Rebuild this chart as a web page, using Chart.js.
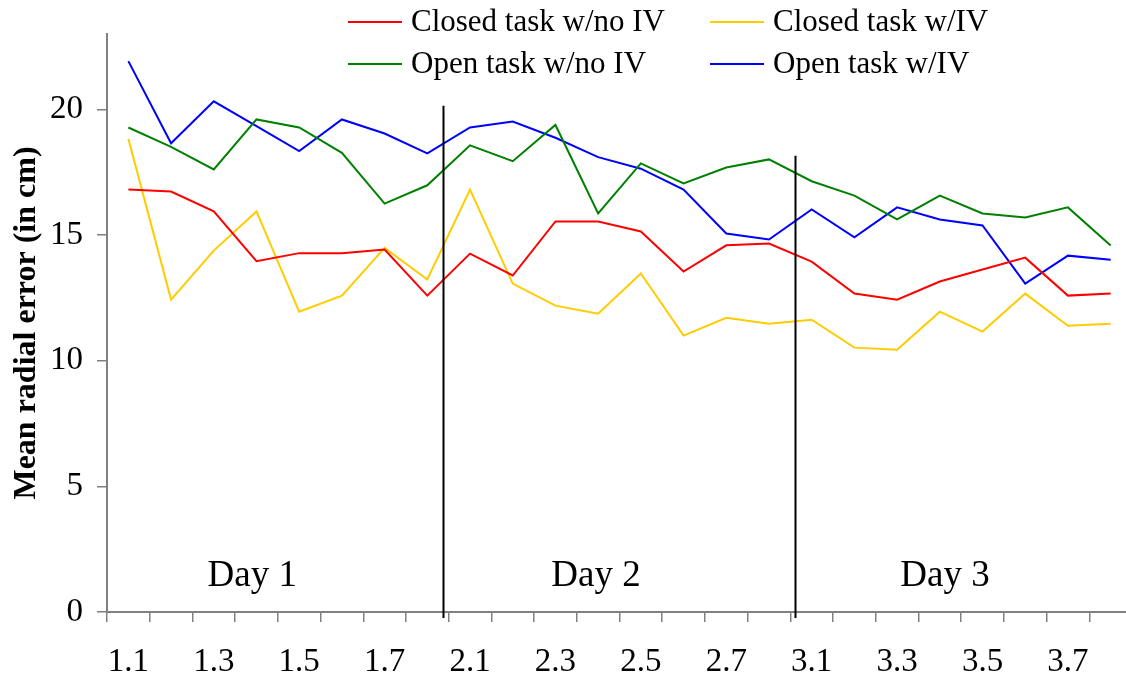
<!DOCTYPE html>
<html lang="en">

<head>
    <meta charset="UTF-8">
    <title>Mean radial error by session</title>
    <script src="https://cdn.jsdelivr.net/npm/chart.js"></script>
    <style>
        body,
        html {
            margin: 0;
            overflow: hidden;
            background: #fff;
        }
    </style>
</head>

<body>
    <canvas id="errorChart" width="1134" height="675"></canvas>
    <script>
        // sessions: day.block
        const sessions = ['1.1', '1.2', '1.3', '1.4', '1.5', '1.6', '1.7', '1.8',
            '2.1', '2.2', '2.3', '2.4', '2.5', '2.6', '2.7', '2.8',
            '3.1', '3.2', '3.3', '3.4', '3.5', '3.6', '3.7', '3.8'];
        const shownTicks = ['1.1', '1.3', '1.5', '1.7', '2.1', '2.3', '2.5', '2.7', '3.1', '3.3', '3.5', '3.7'];

        const closedNoIV = [16.81, 16.73, 15.94, 13.96, 14.28, 14.28, 14.42, 12.59,
            14.26, 13.39, 15.54, 15.54, 15.14, 13.55, 14.59, 14.66,
            13.94, 12.67, 12.43, 13.15, 13.63, 14.10, 12.59, 12.67];
        const closedIV = [18.83, 12.43, 14.38, 15.94, 11.95, 12.59, 14.49, 13.23,
            16.81, 13.07, 12.19, 11.87, 13.47, 11.00, 11.71, 11.47,
            11.63, 10.52, 10.44, 11.95, 11.16, 12.67, 11.39, 11.47];
        const openNoIV = [19.28, 18.51, 17.61, 19.60, 19.28, 18.27, 16.25, 16.98,
            18.57, 17.94, 19.38, 15.86, 17.85, 17.05, 17.69, 18.01,
            17.14, 16.57, 15.62, 16.57, 15.86, 15.70, 16.10, 14.58];
        const openIV = [21.92, 18.65, 20.32, 19.33, 18.34, 19.60, 19.04, 18.25,
            19.28, 19.52, 18.87, 18.10, 17.64, 16.81, 15.06, 14.82,
            16.02, 14.91, 16.10, 15.62, 15.38, 13.07, 14.18, 14.02];

        // day separators (category index units) and labels
        const dividerAt = [7.36, 15.6];
        const dividerTop = [20.14, 18.16];
        const dayLabels = ['Day 1', 'Day 2', 'Day 3'];
        const dayLabelAt = [2.9, 10.95, 19.12];
        const dayLabelY = 1.03;

        const serif = '"Liberation Serif", "Times New Roman", serif';
        const axisGrey = '#808080';

        const dayMarks = {
            id: 'dayMarks',
            afterDatasetsDraw(chart) {
                const { ctx, scales: { x, y }, chartArea } = chart;
                ctx.save();
                ctx.strokeStyle = '#000';
                ctx.lineWidth = 2;
                dividerAt.forEach((pos, i) => {
                    const px = Math.round(x.getPixelForValue(pos)) + 0.5;
                    ctx.beginPath();
                    ctx.moveTo(px, y.getPixelForValue(dividerTop[i]));
                    ctx.lineTo(px, chartArea.bottom + 6);
                    ctx.stroke();
                });
                ctx.fillStyle = '#000';
                ctx.font = '37px ' + serif;
                ctx.textAlign = 'center';
                ctx.textBaseline = 'alphabetic';
                dayLabels.forEach((txt, i) => {
                    ctx.fillText(txt, x.getPixelForValue(dayLabelAt[i]), y.getPixelForValue(dayLabelY));
                });
                ctx.restore();
            }
        };

        // two-column legend laid over the top of the plot
        const gridLegend = {
            id: 'gridLegend',
            afterDraw(chart) {
                const ctx = chart.ctx;
                const colX = [348, 710];
                const rowY = [22, 64];
                ctx.save();
                ctx.font = '31px ' + serif;
                ctx.textBaseline = 'middle';
                ctx.textAlign = 'left';
                chart.data.datasets.forEach((ds, i) => {
                    const lx = colX[i % 2];
                    const ly = rowY[Math.floor(i / 2)];
                    ctx.strokeStyle = ds.borderColor;
                    ctx.lineWidth = 2;
                    ctx.beginPath();
                    ctx.moveTo(lx, ly);
                    ctx.lineTo(lx + 54, ly);
                    ctx.stroke();
                    ctx.fillStyle = '#000';
                    ctx.fillText(ds.label, lx + 63, ly + 1);
                });
                ctx.restore();
            }
        };

        const ctx = document.getElementById('errorChart').getContext('2d');
        new Chart(ctx, {
            type: 'line',
            data: {
                labels: sessions,
                datasets: [
                    { label: 'Closed task w/no IV', data: closedNoIV, borderColor: '#ff0000' },
                    { label: 'Closed task w/IV', data: closedIV, borderColor: '#ffcc00' },
                    { label: 'Open task w/no IV', data: openNoIV, borderColor: '#008000' },
                    { label: 'Open task w/IV', data: openIV, borderColor: '#0000ff' }
                ]
            },
            options: {
                responsive: false,
                animation: false,
                layout: { padding: { top: 34, right: 2, left: 0, bottom: 0 } },
                elements: {
                    line: { borderWidth: 2, tension: 0, fill: false },
                    point: { radius: 0, hoverRadius: 0 }
                },
                plugins: {
                    legend: { display: false },
                    tooltip: { enabled: false }
                },
                scales: {
                    x: {
                        type: 'category',
                        offset: true,
                        afterFit(scale) { scale.height = 63; },
                        grid: {
                            offset: true,
                            drawOnChartArea: false,
                            drawTicks: true,
                            tickLength: 10,
                            color: axisGrey,
                            lineWidth: 1.5
                        },
                        border: { display: true, color: axisGrey, width: 2 },
                        ticks: {
                            autoSkip: false,
                            maxRotation: 0,
                            minRotation: 0,
                            padding: 21,
                            color: '#000',
                            font: { family: serif, size: 33 },
                            callback(value) {
                                const lab = this.getLabelForValue(value);
                                return shownTicks.includes(lab) ? lab : '';
                            }
                        }
                    },
                    y: {
                        min: 0,
                        max: 23,
                        afterFit(scale) { scale.width = 107; },
                        grid: {
                            drawOnChartArea: false,
                            drawTicks: true,
                            tickLength: 10,
                            color: axisGrey,
                            lineWidth: 1.5
                        },
                        border: { display: true, color: axisGrey, width: 2 },
                        ticks: {
                            stepSize: 5,
                            includeBounds: false,
                            padding: 14,
                            color: '#000',
                            font: { family: serif, size: 33 }
                        },
                        title: {
                            display: true,
                            text: 'Mean radial error (in cm)',
                            color: '#000',
                            font: { family: serif, size: 32, weight: 'bold', lineHeight: 1.2 },
                            padding: { top: 8, bottom: 0 }
                        }
                    }
                }
            },
            plugins: [dayMarks, gridLegend]
        });
    </script>
</body>

</html>
